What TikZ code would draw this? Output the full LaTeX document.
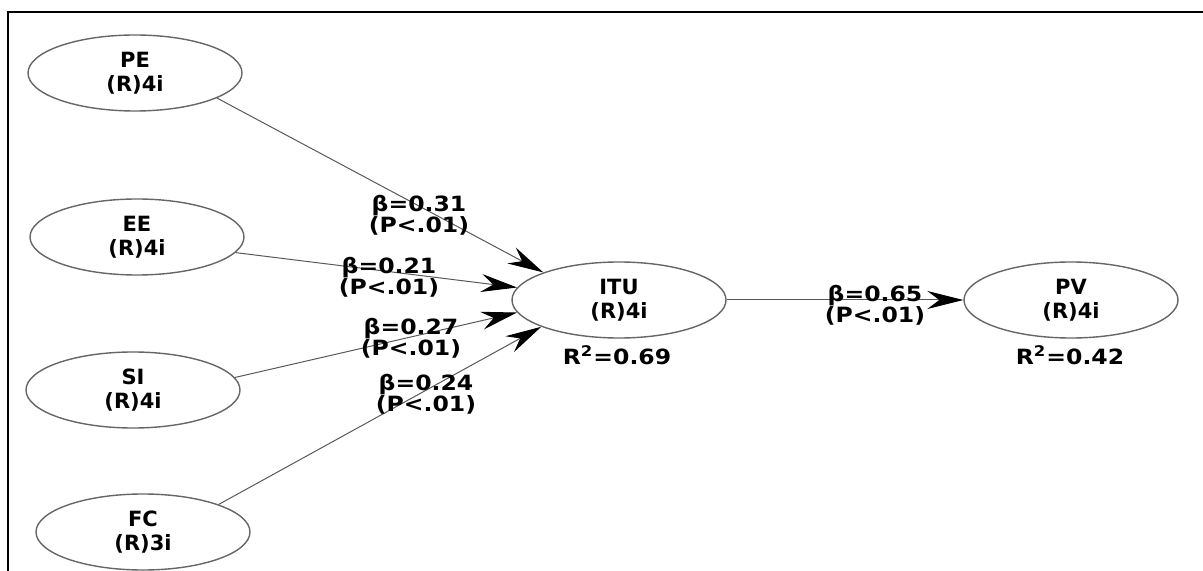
\documentclass[tikz,border=0pt]{standalone}
\usepackage{fontspec}
\usetikzlibrary{arrows.meta,shapes.geometric}
\newfontfamily\nodefont{DejaVu Sans Bold}
\newfontfamily\lblfont{DejaVu Sans Bold}[FakeStretch=1.12]
\begin{document}
\begin{tikzpicture}[x=0.5pt,y=-0.5pt,
  latent/.style={ellipse,draw=black!60,line width=0.7pt,inner sep=0pt,
    minimum width=107pt,minimum height=38pt,align=center,
    font=\nodefont\fontsize{10.5}{12}\selectfont},
  coef/.style={align=center,inner sep=0pt,
    font=\lblfont\fontsize{10.5}{10.5}\selectfont},
  rsq/.style={inner sep=0pt,font=\lblfont\fontsize{10.5}{12}\selectfont},
  path/.style={draw=black!65,line width=0.5pt,
    -{Stealth[length=18pt,width=9pt,inset=6pt,color=black]}}]
\useasboundingbox (0,0) rectangle (1203,571);
\draw[line width=1pt] (8,571) -- (8,12) -- (1203,12);
\node[latent] (PE)  at (135,73)   {PE\\(R)4i};
\node[latent] (EE)  at (137,237)  {EE\\(R)4i};
\node[latent] (SI)  at (133,390)  {SI\\(R)4i};
\node[latent] (FC)  at (143,532)  {FC\\(R)3i};
\node[latent] (ITU) at (619,300)  {ITU\\(R)4i};
\node[latent] (PV)  at (1071,300) {PV\\(R)4i};
\draw[path] (PE.-17) -- (ITU.160.4);
\draw[path] (EE.-9) -- (ITU.173.4);
\draw[path] (SI.7) -- (ITU.187.3);
\draw[path] (FC.20) -- (ITU.199.6);
\draw[path] (ITU) -- (PV);
\node[coef] (c1) at (419,215) {β=0.31\\(P<.01)};
\node[coef] (c2) at (389,277) {β=0.21\\(P<.01)};
\node[coef] (c3) at (411,338) {β=0.27\\(P<.01)};
\node[coef] (c4) at (426,394) {β=0.24\\(P<.01)};
\node[coef] (c5) at (875,305) {β=0.65\\(P<.01)};
\node[rsq] (r1) at (617,355) {R\textsuperscript{2}=0.69};
\node[rsq] (r2) at (1070,355) {R\textsuperscript{2}=0.42};
\end{tikzpicture}
\end{document}
